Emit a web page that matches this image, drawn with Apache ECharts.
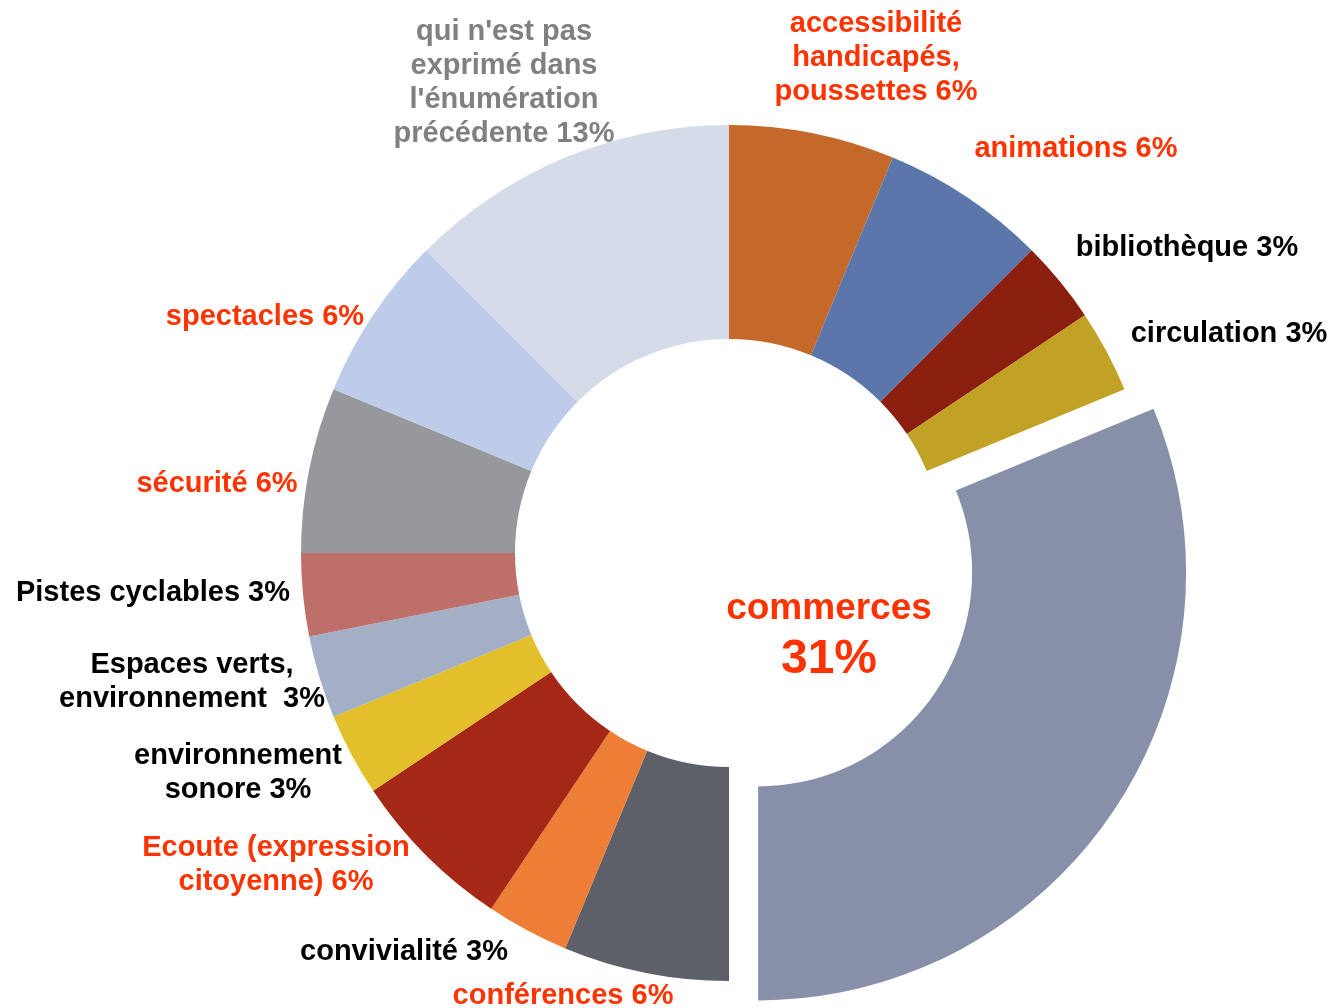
<!DOCTYPE html>
<html>
<head>
<meta charset="utf-8">
<title>Donut</title>
<script src="https://cdn.jsdelivr.net/npm/echarts@6/dist/echarts.min.js"></script>
<style>
  html, body { margin: 0; padding: 0; background: #fff; }
  #chart { width: 1334px; height: 1008px; }
</style>
</head>
<body>
<div id="chart"></div>
<script>
// categories in clockwise order from 12 o'clock
var categories = [
    'accessibilité\nhandicapés,\npoussettes',
    'animations',
    'bibliothèque',
    'circulation',
    'commerces',
    'conférences',
    'convivialité',
    'Ecoute (expression\ncitoyenne)',
    'environnement\nsonore',
    'Espaces verts,\nenvironnement ',
    'Pistes cyclables',
    'sécurité',
    'spectacles',
    "qui n'est pas\nexprimé dans\nl'énumération\nprécédente"
];
// answer counts (32 in total)
var counts = [2, 2, 1, 1, 10, 2, 1, 2, 1, 1, 1, 2, 2, 4];
var HIGHLIGHT = 4; // commerces, pulled out, label in the middle

var sliceColors = [
    '#C5692B', '#5A76AB', '#8B1F10', '#C1A225', '#888FA8', '#5D6068', '#EE7E35',
    '#A52816', '#E3BF2B', '#A3AEC7', '#BF6F69', '#96989C', '#BFCCE9', '#D5DBE8'
];
var RED = '#FF3300', BLACK = '#000000', GREY = '#808080';
var labelColors = [RED, RED, BLACK, BLACK, RED, RED, BLACK, RED, BLACK, BLACK, BLACK, RED, RED, GREY];
// label block centres, relative to the pie centre
var labelOffsets = [
    [147, -495], [347, -404], [458, -305], [500, -219], [100, 83], [-166, 443],
    [-325, 399], [-453, 312], [-491, 220], [-537, 129], [-576, 40], [-512, -69],
    [-464, -236], [-225, -470]
];
var CX = 729, CY = 553;
var FONT = '"Liberation Sans", Arial, sans-serif';

var total = counts.reduce(function (a, b) { return a + b; }, 0);
function pct(v) { return Math.round(v / total * 100) + '%'; }

var myChart = echarts.init(document.getElementById('chart'));
var option = {
    animation: false,
    graphic: [{
        type: 'text',
        x: CX + labelOffsets[HIGHLIGHT][0],
        y: CY + labelOffsets[HIGHLIGHT][1],
        style: {
            text: '{a|' + categories[HIGHLIGHT] + '}\n{b|' + pct(counts[HIGHLIGHT]) + '}',
            align: 'center',
            verticalAlign: 'middle',
            rich: {
                a: { fontSize: 37, lineHeight: 48, fontWeight: 'bold', fill: RED, fontFamily: FONT },
                b: { fontSize: 48, lineHeight: 54, fontWeight: 'bold', fill: RED, fontFamily: FONT }
            }
        }
    }],
    series: [{
        type: 'pie',
        center: [CX, CY],
        radius: [214, 428],
        startAngle: 90,
        clockwise: true,
        selectedMode: 'single',
        selectedOffset: 35,
        avoidLabelOverlap: false,
        emphasis: { disabled: true },
        itemStyle: { borderWidth: 0 },
        labelLine: { show: false },
        label: {
            show: true,
            position: 'outside',
            fontFamily: FONT,
            fontWeight: 'bold',
            fontSize: 29,
            lineHeight: 34,
            align: 'center',
            formatter: function (p) {
                return p.name + ' ' + pct(p.value);
            }
        },
        labelLayout: function (params) {
            var o = labelOffsets[params.dataIndex];
            return { x: CX + o[0], y: CY + o[1], align: 'center', verticalAlign: 'middle' };
        },
        data: categories.map(function (name, i) {
            return {
                name: name,
                value: counts[i],
                selected: i === HIGHLIGHT,
                itemStyle: { color: sliceColors[i] },
                label: { color: labelColors[i], show: i !== HIGHLIGHT }
            };
        })
    }]
};
myChart.setOption(option);
</script>
</body>
</html>
